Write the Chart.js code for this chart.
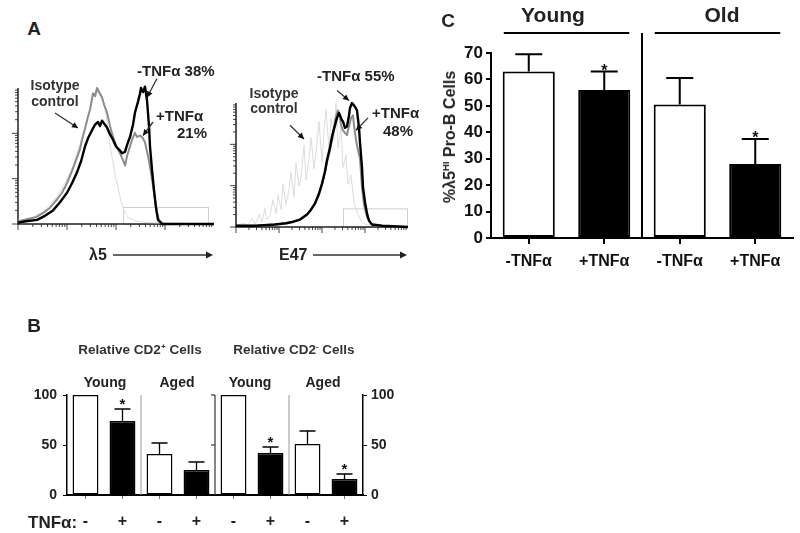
<!DOCTYPE html>
<html lang="en">
<head>
<meta charset="utf-8" />
<title>TNFα and pro-B cells</title>
<style>
  body { margin: 0; background: #fff; }
  #page { position: relative; width: 800px; height: 533px; overflow: hidden;
          font-family: "Liberation Sans", Arial, sans-serif; font-weight: bold; color: #222; }
  canvas { position: absolute; }
  .t { position: absolute; white-space: nowrap; line-height: 1; }
  .c { transform: translate(-50%, -50%); }
  .l { transform: translate(0, -50%); }
  sup { font-size: 0.6em; vertical-align: 0.6em; line-height: 0; }
</style>
</head>
<body>
<div id="page">
  <canvas id="histL5" width="220" height="215" style="left:0px;top:55px"></canvas>
  <canvas id="histE47" width="200" height="215" style="left:220px;top:55px"></canvas>
  <canvas id="cd2" width="400" height="233" style="left:0px;top:300px"></canvas>
  <canvas id="proB" width="400" height="280" style="left:400px;top:0px"></canvas>

  <!-- panel A -->
  <div class="t c" style="left:34px;top:28px;font-size:19px">A</div>
  <div class="t c" style="left:55px;top:85px;font-size:14px;color:#333">Isotype</div>
  <div class="t c" style="left:55px;top:101px;font-size:14px;color:#333">control</div>
  <div class="t l" style="left:137px;top:70px;font-size:15px">-TNFα 38%</div>
  <div class="t l" style="left:156px;top:115px;font-size:15px">+TNFα</div>
  <div class="t l" style="left:177px;top:132px;font-size:15px">21%</div>
  <div class="t c" style="left:274px;top:93px;font-size:14px;color:#333">Isotype</div>
  <div class="t c" style="left:274px;top:108px;font-size:14px;color:#333">control</div>
  <div class="t l" style="left:317px;top:75px;font-size:15px">-TNFα 55%</div>
  <div class="t l" style="left:372px;top:112px;font-size:15px">+TNFα</div>
  <div class="t l" style="left:383px;top:130px;font-size:15px">48%</div>
  <div class="t l" style="left:89px;top:255px;font-size:16px">λ5</div>
  <div class="t l" style="left:279px;top:255px;font-size:16px">E47</div>

  <!-- panel B -->
  <div class="t c" style="left:34px;top:325px;font-size:19px">B</div>
  <div class="t c" style="left:140px;top:350px;font-size:13.5px;color:#333">Relative CD2<sup>+</sup> Cells</div>
  <div class="t c" style="left:294px;top:350px;font-size:13.5px;color:#333">Relative CD2<sup>-</sup> Cells</div>
  <div class="t c" style="left:105px;top:382px;font-size:14px">Young</div>
  <div class="t c" style="left:177px;top:382px;font-size:14px">Aged</div>
  <div class="t c" style="left:250px;top:382px;font-size:14px">Young</div>
  <div class="t c" style="left:323px;top:382px;font-size:14px">Aged</div>
  <div class="t l" style="left:28px;top:522px;font-size:17px">TNFα:</div>

  <!-- panel C -->
  <div class="t c" style="left:448px;top:20px;font-size:19px">C</div>
  <div class="t c" style="left:553px;top:14px;font-size:21px">Young</div>
  <div class="t c" style="left:722px;top:14px;font-size:21px">Old</div>
  <div class="t c" style="left:450px;top:137px;font-size:16px;transform:translate(-50%,-50%) rotate(-90deg)">%λ5<sup>HI</sup> Pro-B Cells</div>
</div>

<script src="https://cdn.jsdelivr.net/npm/chart.js@4.4.0/dist/chart.umd.min.js"></script>
<script>
  var FONT = '"Liberation Sans", Arial, sans-serif';

  // panel A: flow histograms, [channel, % of max]
  var l5Minus = [[0,1],[8,2],[19,3],[27,6],[35,10],[42,16],[49,23],[54,30],[59,38],[63,46],[67,57],[70,63],
    [74,69],[77,73],[80,75],[82,72],[84,76],[87,73],[89,71],[92,66],[95,62],[98,57],[102,54],[104,52],
    [107,53],[109,58],[112,64],[115,73],[117,82],[120,90],[122,96],[123,100],[125,97],[127,101],[129,91],
    [131,72],[132,57],[134,40],[136,25],[138,12],[140,3],[144,0],[196,0]];
  var l5Plus = [[0,2],[6,3],[12,4],[18,5],[25,8],[32,12],[39,18],[44,23],[49,30],[54,39],[59,49],[62,55],
    [64,62],[67,70],[70,79],[72,84],[75,96],[77,94],[79,100],[81,97],[84,93],[86,88],[89,82],[92,72],
    [95,64],[98,58],[102,52],[105,47],[107,43],[109,50],[112,57],[114,62],[117,67],[119,64],[122,65],
    [125,63],[127,60],[130,50],[132,42],[135,28],[137,18],[139,8],[141,3],[145,0],[196,0]];
  var l5Iso = [[0,2],[12,4],[25,9],[39,20],[49,33],[55,42],[59,52],[65,66],[71,82],[74,90],[76,97],
    [78,94],[80,100],[83,96],[85,92],[88,80],[90,70],[92,58],[95,45],[97,36],[99,30],[102,20],[104,14],
    [107,8],[110,5],[118,2],[130,1],[196,0]];

  var e47Minus = [[0,1],[20,1],[39,2],[50,3],[56,4],[64,6],[71,10],[75,14],[79,19],[83,27],[86,35],
    [89,45],[91,54],[94,64],[96,73],[99,82],[101,88],[103,92],[104,90],[106,86],[107,85],[109,80],
    [111,81],[113,90],[114,96],[116,100],[117,99],[119,97],[121,94],[123,80],[124,68],[126,48],[127,32],
    [129,20],[131,11],[133,5],[136,2],[146,1],[172,0]];
  var e47Plus = [[0,1],[20,1],[39,2],[50,3],[56,4],[64,6],[71,10],[75,14],[79,19],[83,26],[86,34],
    [89,44],[91,52],[94,62],[96,70],[98,80],[99,86],[101,92],[102,94],[104,88],[105,82],[107,78],
    [109,76],[111,74],[112,78],[114,84],[115,88],[117,90],[118,82],[120,70],[122,62],[124,55],[126,32],
    [128,18],[131,8],[136,2],[146,1],[172,0]];
  var e47Iso = [[0,1],[8,3],[12,1],[16,7],[19,2],[23,10],[26,4],[29,15],[31,6],[34,9],[37,22],[40,11],
    [42,26],[45,14],[47,35],[50,18],[53,30],[55,44],[58,24],[60,52],[63,33],[65,40],[68,66],[70,38],
    [73,55],[75,72],[78,47],[80,60],[83,85],[86,52],[88,78],[90,95],[93,62],[95,88],[98,70],[100,100],
    [102,64],[105,80],[107,48],[110,58],[112,35],[115,42],[118,20],[121,12],[125,5],[130,2],[140,1],[172,0]];

  // panel B: relative CD2+ / CD2- cells
  var bLabels = ['-', '+', '-', '+', '-', '+', '-', '+'];
  var bValues = [100, 74, 41, 25, 100, 42, 51, 16];
  var bErrors = [0, 12, 11, 8, 0, 6, 13, 5];
  var bStars = [false, true, false, false, false, true, false, true];

  // panel C: % lambda5 HI pro-B cells
  var cLabels = ['-TNFα', '+TNFα', '-TNFα', '+TNFα'];
  var cValues = [63, 56, 50.5, 28];
  var cErrors = [6.5, 7, 10, 9.5];
  var cStars = [false, true, false, true];

  Chart.defaults.font.family = FONT;
  Chart.defaults.font.weight = 'bold';
  Chart.defaults.color = '#222';

  function arrowHead(ctx, x0, y0, x1, y1, len, w) {
    var ang = Math.atan2(y1 - y0, x1 - x0);
    ctx.beginPath();
    ctx.moveTo(x1, y1);
    ctx.lineTo(x1 - len * Math.cos(ang) + w * Math.sin(ang), y1 - len * Math.sin(ang) - w * Math.cos(ang));
    ctx.lineTo(x1 - len * Math.cos(ang) - w * Math.sin(ang), y1 - len * Math.sin(ang) + w * Math.cos(ang));
    ctx.closePath();
    ctx.fill();
  }

  // axes, log ticks, gate box and pointer arrows for the histograms
  var flowAxes = {
    id: 'flowAxes',
    beforeDatasetsDraw: function (chart, args, o) {
      var ctx = chart.ctx, a = chart.chartArea, xs = chart.scales.x, ys = chart.scales.y;
      ctx.save();
      ctx.strokeStyle = '#cfcfcf';
      ctx.lineWidth = 1;
      var gx0 = xs.getPixelForValue(o.gate[0]), gx1 = xs.getPixelForValue(o.gate[1]);
      var gy = ys.getPixelForValue(o.gate[2]);
      ctx.strokeRect(gx0 + 0.5, gy + 0.5, gx1 - gx0, a.bottom - gy);

      ctx.strokeStyle = '#444';
      ctx.lineWidth = 1;
      var k, d, p;
      var dw = (a.right - a.left) / 4;
      for (d = 0; d < 4; d++) {
        for (k = 1; k <= 9; k++) {
          p = a.left + dw * (d + Math.log10(k));
          ctx.beginPath();
          ctx.moveTo(p, a.bottom);
          ctx.lineTo(p, a.bottom + (k === 1 ? 6 : 3));
          ctx.stroke();
        }
      }
      var dh = (a.bottom - a.top) / 3;
      for (d = 0; d < 3; d++) {
        for (k = 1; k <= 9; k++) {
          p = a.bottom - dh * (d + Math.log10(k));
          ctx.beginPath();
          ctx.moveTo(a.left, p);
          ctx.lineTo(a.left - (k === 1 ? 6 : 3), p);
          ctx.stroke();
        }
      }
      ctx.strokeStyle = '#222';
      ctx.lineWidth = 1.5;
      ctx.beginPath();
      ctx.moveTo(a.left, a.top);
      ctx.lineTo(a.left, a.bottom);
      ctx.lineTo(a.right, a.bottom);
      ctx.stroke();

      // axis arrow under the plot
      var ay = a.bottom + o.axisArrow[2];
      var ax0 = xs.getPixelForValue(o.axisArrow[0]), ax1 = xs.getPixelForValue(o.axisArrow[1]);
      ctx.strokeStyle = '#333';
      ctx.fillStyle = '#222';
      ctx.lineWidth = 1.5;
      ctx.beginPath();
      ctx.moveTo(ax0, ay);
      ctx.lineTo(ax1 - 4, ay);
      ctx.stroke();
      arrowHead(ctx, ax0, ay, ax1, ay, 7, 3.5);
      ctx.restore();
    },
    afterDatasetsDraw: function (chart, args, o) {
      var ctx = chart.ctx, xs = chart.scales.x, ys = chart.scales.y;
      ctx.save();
      ctx.strokeStyle = '#333';
      ctx.fillStyle = '#111';
      ctx.lineWidth = 1.3;
      o.pointers.forEach(function (p) {
        var x0 = xs.getPixelForValue(p[0]), y0 = ys.getPixelForValue(p[1]);
        var x1 = xs.getPixelForValue(p[2]), y1 = ys.getPixelForValue(p[3]);
        ctx.beginPath();
        ctx.moveTo(x0, y0);
        ctx.lineTo(x1, y1);
        ctx.stroke();
        arrowHead(ctx, x0, y0, x1, y1, 6, 3);
      });
      ctx.restore();
    }
  };

  function toXY(list) {
    return list.map(function (p) { return { x: p[0], y: p[1] }; });
  }

  function flowChart(id, minus, plus, iso, xMax, pad, marks) {
    return new Chart(document.getElementById(id), {
      type: 'line',
      data: {
        datasets: [
          { data: toXY(minus), borderColor: '#000', borderWidth: 2.4, clip: false },
          { data: toXY(plus), borderColor: '#8c8c8c', borderWidth: 2, clip: false },
          { data: toXY(iso), borderColor: '#dcdcdc', borderWidth: 1, clip: false }
        ]
      },
      options: {
        responsive: false,
        animation: false,
        events: [],
        layout: { padding: pad },
        elements: { point: { radius: 0 }, line: { tension: 0, borderJoinStyle: 'round' } },
        plugins: { legend: { display: false }, tooltip: { enabled: false }, flowAxes: marks },
        scales: {
          x: { type: 'linear', display: false, min: 0, max: xMax },
          y: { display: false, min: 0, max: 100 }
        }
      },
      plugins: [flowAxes]
    });
  }

  flowChart('histL5', l5Minus, l5Plus, l5Iso, 196,
    { left: 18, right: 6, top: 33, bottom: 46 },
    { gate: [105, 190, 12.5], axisArrow: [95, 195, 31],
      pointers: [[37, 81.6, 60, 70.6], [139, 107, 129, 93], [135, 75, 125, 65]] });

  flowChart('histE47', e47Minus, e47Plus, e47Iso, 172,
    { left: 16, right: 12, top: 48, bottom: 43 },
    { gate: [107, 171, 15], axisArrow: [77, 171, 28],
      pointers: [[54, 82, 68, 71], [101, 110, 113, 102], [132, 88, 120, 78]] });

  // error bars with significance stars
  var errorBars = {
    id: 'errorBars',
    afterDatasetsDraw: function (chart, args, o) {
      var ctx = chart.ctx, ys = chart.scales.y, meta = chart.getDatasetMeta(0);
      var vals = chart.data.datasets[0].data;
      ctx.save();
      ctx.strokeStyle = '#000';
      ctx.fillStyle = '#111';
      ctx.lineWidth = o.width;
      ctx.font = 'bold ' + o.starSize + 'px ' + FONT;
      ctx.textAlign = 'center';
      ctx.textBaseline = 'alphabetic';
      meta.data.forEach(function (bar, i) {
        var err = o.errors[i];
        if (!err) return;
        var top = ys.getPixelForValue(vals[i] + err);
        ctx.beginPath();
        ctx.moveTo(bar.x, bar.y);
        ctx.lineTo(bar.x, top);
        ctx.moveTo(bar.x - o.cap / 2, top);
        ctx.lineTo(bar.x + o.cap / 2, top);
        ctx.stroke();
        if (o.stars[i]) ctx.fillText('*', bar.x, top + o.starShift);
      });
      ctx.restore();
    }
  };

  // divider lines between groups and the group underline bars
  var groupMarks = {
    id: 'groupMarks',
    afterDatasetsDraw: function (chart, args, o) {
      var ctx = chart.ctx, a = chart.chartArea, xs = chart.scales.x, ys = chart.scales.y;
      ctx.save();
      (o.dividers || []).forEach(function (d) {
        var px = (xs.getPixelForValue(d.after) + xs.getPixelForValue(d.after + 1)) / 2;
        ctx.strokeStyle = d.color;
        ctx.lineWidth = d.width;
        ctx.beginPath();
        ctx.moveTo(px, a.top - d.rise);
        ctx.lineTo(px, a.bottom);
        ctx.stroke();
        (d.ticks || []).forEach(function (v) {
          var py = ys.getPixelForValue(v);
          ctx.beginPath();
          ctx.moveTo(px - 4, py);
          ctx.lineTo(px, py);
          ctx.stroke();
        });
      });
      (o.spans || []).forEach(function (s) {
        ctx.strokeStyle = '#000';
        ctx.lineWidth = 2;
        ctx.beginPath();
        ctx.moveTo(xs.getPixelForValue(s.from) - s.pad, a.top - s.rise);
        ctx.lineTo(xs.getPixelForValue(s.to) + s.pad, a.top - s.rise);
        ctx.stroke();
      });
      ctx.restore();
    }
  };

  var tickFontB = { size: 14, weight: 'bold', family: FONT };

  new Chart(document.getElementById('cd2'), {
    type: 'bar',
    data: {
      labels: bLabels,
      datasets: [{
        data: bValues,
        backgroundColor: bLabels.map(function (l) { return l === '+' ? '#000' : '#fff'; }),
        borderColor: '#000',
        borderWidth: 1.5,
        borderSkipped: false,
        barPercentage: 0.7,
        categoryPercentage: 1
      }]
    },
    options: {
      responsive: false,
      animation: false,
      events: [],
      layout: { padding: { top: 95, left: 0, right: 0, bottom: 0 } },
      plugins: {
        legend: { display: false },
        tooltip: { enabled: false },
        errorBars: { errors: bErrors, stars: bStars, cap: 16, width: 1.3, starSize: 15, starShift: 0 },
        groupMarks: {
          dividers: [
            { after: 1, color: '#999', width: 1, rise: 0 },
            { after: 3, color: '#444', width: 1.3, rise: 0, ticks: [50, 100] },
            { after: 5, color: '#999', width: 1, rise: 0 }
          ]
        }
      },
      scales: {
        x: {
          grid: { drawOnChartArea: false, offset: false, tickLength: 4, color: '#777', tickColor: '#777' },
          border: { color: '#000', width: 2 },
          ticks: { padding: 13, color: '#222', font: { size: 16, weight: 'bold', family: FONT } },
          afterFit: function (s) { s.height = 38; }
        },
        y: {
          min: 0, max: 100,
          ticks: { stepSize: 50, padding: 6, color: '#222', font: tickFontB },
          grid: { drawOnChartArea: false, tickLength: 4, color: '#000', tickColor: '#000' },
          border: { color: '#000', width: 1.5 },
          afterFit: function (s) { s.width = 67; }
        },
        y2: {
          position: 'right',
          min: 0, max: 100,
          ticks: { stepSize: 50, padding: 4, color: '#222', font: tickFontB },
          grid: { drawOnChartArea: false, tickLength: 4, color: '#000', tickColor: '#000' },
          border: { color: '#000', width: 1.5 },
          afterFit: function (s) { s.width = 37; }
        }
      }
    },
    plugins: [errorBars, groupMarks]
  });

  new Chart(document.getElementById('proB'), {
    type: 'bar',
    data: {
      labels: cLabels,
      datasets: [{
        data: cValues,
        backgroundColor: cLabels.map(function (l) { return l.charAt(0) === '+' ? '#000' : '#fff'; }),
        borderColor: '#000',
        borderWidth: 2,
        borderSkipped: false,
        barPercentage: 0.69,
        categoryPercentage: 1
      }]
    },
    options: {
      responsive: false,
      animation: false,
      events: [],
      layout: { padding: { top: 53, left: 0, right: 7, bottom: 0 } },
      plugins: {
        legend: { display: false },
        tooltip: { enabled: false },
        errorBars: { errors: cErrors, stars: cStars, cap: 27, width: 2, starSize: 16, starShift: 4 },
        groupMarks: {
          dividers: [{ after: 1, color: '#000', width: 2, rise: 20 }],
          spans: [{ from: 0, to: 1, pad: 25, rise: 20 }, { from: 2, to: 3, pad: 25, rise: 20 }]
        }
      },
      scales: {
        x: {
          grid: { drawOnChartArea: false, offset: false, tickLength: 6, lineWidth: 2, color: '#000', tickColor: '#000' },
          border: { color: '#000', width: 2 },
          ticks: { padding: 8, color: '#111', font: { size: 16, weight: 'bold', family: FONT } },
          afterFit: function (s) { s.height = 42; }
        },
        y: {
          min: 0, max: 70,
          ticks: { stepSize: 10, padding: 3, color: '#111', font: { size: 17, weight: 'bold', family: FONT } },
          grid: { drawOnChartArea: false, tickLength: 5, lineWidth: 2, color: '#000', tickColor: '#000' },
          border: { color: '#000', width: 2 },
          afterFit: function (s) { s.width = 91; }
        }
      }
    },
    plugins: [errorBars, groupMarks]
  });
</script>
</body>
</html>
